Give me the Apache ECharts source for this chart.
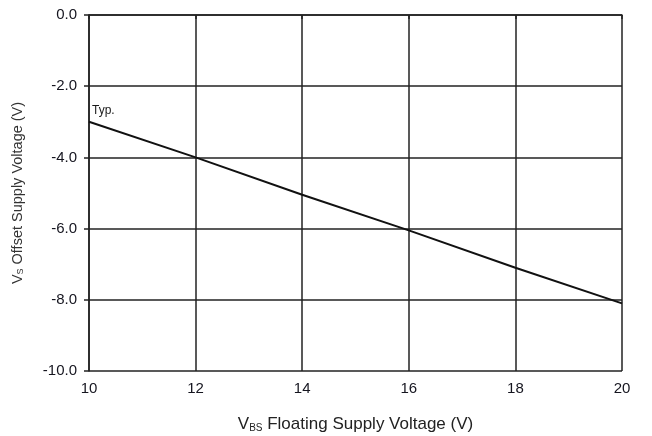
<!DOCTYPE html>
<html>
<head>
<meta charset="utf-8">
<script src="https://cdn.jsdelivr.net/npm/echarts@6/dist/echarts.min.js"></script>
<style>
  html, body { margin: 0; padding: 0; background: #fff; }
  #chart { width: 652px; height: 436px; }
</style>
</head>
<body>
<div id="chart"></div>
<script>
// Vs offset vs Vbs floating supply voltage (typical)
var vbs = [10, 12, 14, 16, 18, 20];
var vsTyp = [-3.0, -4.0, -5.05, -6.05, -7.1, -8.1];
var curveLabel = 'Typ.';

var font = 'Liberation Sans, Arial, sans-serif';
var chart = echarts.init(document.getElementById('chart'));

var seriesData = vbs.map(function (x, i) {
    var item = { value: [x, vsTyp[i]] };
    if (i === 0) {
        item.label = {
            show: true,
            formatter: curveLabel,
            position: [3, -17],
            align: 'left',
            verticalAlign: 'top',
            fontFamily: font,
            fontSize: 12,
            color: '#1a1a1a'
        };
    }
    return item;
});

var option = {
    backgroundColor: '#fff',
    animation: false,
    grid: { left: 89, right: 30, top: 15, bottom: 65, outerBoundsMode: 'none' },
    xAxis: {
        type: 'value',
        min: 10,
        max: 20,
        interval: 2,
        name: '{a|V}{s|BS} Floating Supply Voltage (V)',
        nameLocation: 'middle',
        nameGap: 45,
        nameTextStyle: {
            rich: {
                a: { fontFamily: font, fontSize: 17, color: '#222' },
                s: { fontFamily: font, fontSize: 10, color: '#222', verticalAlign: 'bottom', padding: [5, 0, 0, 0] }
            },
            fontFamily: font,
            fontSize: 17,
            color: '#222'
        },
        axisLine: { lineStyle: { color: '#222', width: 1.5 } },
        axisTick: { show: true, length: 4, lineStyle: { color: '#222', width: 1.5 } },
        axisLabel: { fontFamily: font, fontSize: 15, color: '#15151f', margin: 10 },
        splitLine: { show: true, lineStyle: { color: '#222', width: 1.5 } }
    },
    yAxis: {
        type: 'value',
        min: -10,
        max: 0,
        interval: 2,
        name: '{a|V}{s|S} Offset Supply Voltage (V)',
        nameLocation: 'middle',
        nameRotate: 90,
        nameGap: 64,
        nameTextStyle: {
            rich: {
                a: { fontFamily: font, fontSize: 14.5, color: '#333' },
                s: { fontFamily: font, fontSize: 9, color: '#333', verticalAlign: 'bottom', padding: [5, 0, 0, 0] }
            },
            fontFamily: font,
            fontSize: 14.5,
            color: '#333'
        },
        axisLine: { lineStyle: { color: '#222', width: 1.5 } },
        axisTick: { show: true, length: 5, lineStyle: { color: '#222', width: 1.5 } },
        axisLabel: {
            fontFamily: font,
            fontSize: 15,
            color: '#15151f',
            margin: 12,
            formatter: function (v) { return v.toFixed(1); }
        },
        splitLine: { show: true, lineStyle: { color: '#222', width: 1.5 } }
    },
    series: [{
        type: 'line',
        data: seriesData,
        showSymbol: true,
        symbol: 'circle',
        symbolSize: 0,
        lineStyle: { color: '#111', width: 2 },
        clip: false
    }]
};
chart.setOption(option);
</script>
</body>
</html>
